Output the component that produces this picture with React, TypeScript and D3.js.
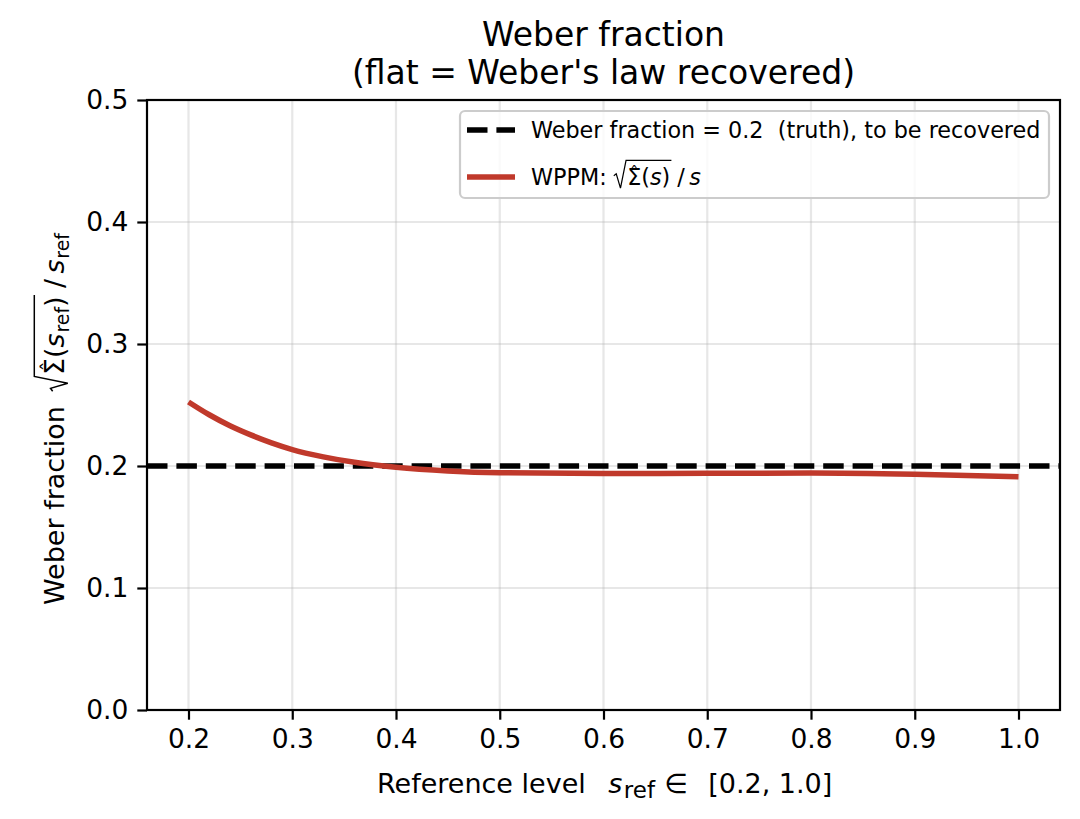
import React, { useEffect, useRef } from "react";
import * as d3 from "d3";

// reference levels and the fitted WPPM Weber fraction at each one
const sRef = [0.2, 0.22, 0.24, 0.26, 0.28, 0.3, 0.33, 0.36, 0.4, 0.45, 0.5, 0.6, 0.7, 0.8, 0.9, 1.0];
const wppm = [0.2525, 0.242, 0.233, 0.2255, 0.219, 0.2135, 0.2075, 0.203, 0.199, 0.196, 0.1945, 0.1938, 0.194, 0.1942, 0.1932, 0.1912];
const truth = 0.2;
const xTicks = [0.2, 0.3, 0.4, 0.5, 0.6, 0.7, 0.8, 0.9, 1.0];
const yTicks = [0.0, 0.1, 0.2, 0.3, 0.4, 0.5];
const titleLines = ["Weber fraction", "(flat = Weber's law recovered)"];

const W = 1080;
const H = 819;
const margin = { top: 100, right: 20, bottom: 109, left: 147 };
const FONT = "DejaVu Sans, sans-serif";
const RED = "#c0392b";
const NB = "\u00a0";

type Seg = { t?: string; it?: boolean; sub?: number; hat?: boolean; gap?: number; rad?: "open" | "close" };

// lays out a row of text pieces (with a drawn radical) and returns its width
function mathRow(g: any, segs: Seg[], fs: number): number {
  let x = 0;
  let radStart = 0;
  segs.forEach(s => {
    if (s.gap) { x += s.gap * fs; return; }
    if (s.rad === "open") { radStart = x; x += 0.6 * fs; return; }
    if (s.rad === "close") {
      const top = -1.1 * fs;
      x += 0.05 * fs;
      g.append("path")
        .attr("d", `M${radStart},${-0.42 * fs} L${radStart + 0.11 * fs},${-0.5 * fs} L${radStart + 0.3 * fs},${0.14 * fs} L${radStart + 0.55 * fs},${top} L${x},${top}`)
        .attr("fill", "none").attr("stroke", "#000").attr("stroke-width", 0.055 * fs)
        .attr("stroke-linejoin", "miter");
      x += 0.06 * fs;
      return;
    }
    const size = s.sub ? fs * s.sub : fs;
    const t = g.append("text")
      .attr("x", x).attr("y", s.sub ? fs * 0.2 : 0)
      .attr("font-size", size)
      .attr("font-style", s.it ? "italic" : "normal")
      .text(s.t);
    const w = t.node().getComputedTextLength();
    if (s.hat) {
      g.append("text").attr("x", x + w / 2).attr("y", -0.33 * fs)
        .attr("text-anchor", "middle").attr("font-size", fs * 0.75).text("\u02c6");
    }
    x += w;
  });
  return x;
}

const App = () => {
  const ref = useRef<SVGSVGElement>(null);

  useEffect(() => {
    document.body.style.margin = "0";
    const svg = d3.select(ref.current);
    svg.selectAll("*").remove();
    svg.attr("font-family", FONT);

    const x = d3.scaleLinear().domain([0.16, 1.04]).range([margin.left, W - margin.right]);
    const y = d3.scaleLinear().domain([0, 0.5]).range([H - margin.bottom, margin.top]);
    const [x0, x1] = x.range();
    const [y0, y1] = y.range();

    // grid
    const grid = svg.append("g").attr("stroke", "#b0b0b0").attr("stroke-opacity", 0.3).attr("stroke-width", 2.2);
    grid.selectAll("line.gx").data(xTicks).join("line")
      .attr("class", "gx")
      .attr("x1", d => x(d)).attr("x2", d => x(d)).attr("y1", y0).attr("y2", y1);
    grid.selectAll("line.gy").data(yTicks).join("line")
      .attr("class", "gy")
      .attr("x1", x0).attr("x2", x1).attr("y1", d => y(d)).attr("y2", d => y(d));

    // truth line
    svg.append("line")
      .attr("x1", x0).attr("x2", x1).attr("y1", y(truth)).attr("y2", y(truth))
      .attr("stroke", "#000").attr("stroke-width", 5.5).attr("stroke-dasharray", "20.5,8.9");

    // fitted curve
    const line = d3.line<number>().x((d, i) => x(sRef[i])).y(d => y(d)).curve(d3.curveMonotoneX);
    svg.append("path").datum(wppm).attr("d", line)
      .attr("fill", "none").attr("stroke", RED).attr("stroke-width", 5.5);

    // axes
    const xAxis = svg.append("g").attr("transform", `translate(0,${y0})`)
      .call(d3.axisBottom(x).tickValues(xTicks).tickFormat(d3.format(".1f")).tickSizeOuter(0).tickSize(9.7).tickPadding(9));
    const yAxis = svg.append("g").attr("transform", `translate(${x0},0)`)
      .call(d3.axisLeft(y).tickValues(yTicks).tickFormat(d3.format(".1f")).tickSizeOuter(0).tickSize(9.7).tickPadding(9));
    [xAxis, yAxis].forEach(a => {
      a.select(".domain").remove();
      a.selectAll("line").attr("stroke", "#000").attr("stroke-width", 2.2);
      a.selectAll("text").attr("font-family", FONT).attr("font-size", 26.5).attr("fill", "#000");
    });
    svg.append("rect").attr("x", x0).attr("y", y1).attr("width", x1 - x0).attr("height", y0 - y1)
      .attr("fill", "none").attr("stroke", "#000").attr("stroke-width", 2.2);

    // title
    svg.append("g").selectAll("text").data(titleLines).join("text")
      .attr("x", (x0 + x1) / 2).attr("y", (d, i) => 46 + i * 38)
      .attr("text-anchor", "middle").attr("font-size", 33).text(d => d);

    // x label
    const xl = svg.append("g").attr("transform", `translate(377,793)`);
    mathRow(xl, [
      { t: "Reference level" }, { gap: 0.83 }, { t: "s", it: true }, { gap: 0.06 }, { t: "ref", sub: 0.85 },
      { gap: 0.35 }, { t: "\u2208" }, { gap: 0.75 }, { t: "[0.2, 1.0]" }
    ], 27);

    // y label
    const yl = svg.append("g").attr("transform", `translate(64,605) rotate(-90)`);
    mathRow(yl, [
      { t: "Weber fraction" }, { gap: 0.55 }, { rad: "open" }, { t: "\u03a3", hat: true }, { t: "(" },
      { t: "s", it: true }, { gap: 0.03 }, { t: "ref", sub: 0.7 }, { t: ")" }, { rad: "close" },
      { gap: 0.2 }, { t: "/" }, { gap: 0.2 }, { t: "s", it: true }, { gap: 0.03 }, { t: "ref", sub: 0.7 }
    ], 27);

    // legend
    const lg = svg.append("g");
    lg.append("rect").attr("x", 460).attr("y", 111).attr("width", 589).attr("height", 87).attr("rx", 5)
      .attr("fill", "#fff").attr("fill-opacity", 0.8).attr("stroke", "#cccccc").attr("stroke-width", 2.2);
    lg.append("line").attr("x1", 467).attr("x2", 515).attr("y1", 130).attr("y2", 130)
      .attr("stroke", "#000").attr("stroke-width", 5.5).attr("stroke-dasharray", "20.5,8.9");
    lg.append("line").attr("x1", 467).attr("x2", 515).attr("y1", 177).attr("y2", 177)
      .attr("stroke", RED).attr("stroke-width", 5.5);
    const l1 = lg.append("g").attr("transform", "translate(531,138)");
    mathRow(l1, [{ t: "Weber fraction = 0.2" + NB + NB + "(truth), to be recovered" }], 22.3);
    const l2 = lg.append("g").attr("transform", "translate(531,185)");
    mathRow(l2, [
      { t: "WPPM:" + NB }, { rad: "open" }, { t: "\u03a3", hat: true }, { t: "(" }, { t: "s", it: true }, { t: ")" },
      { rad: "close" }, { gap: 0.2 }, { t: "/" }, { gap: 0.2 }, { t: "s", it: true }
    ], 22.3);
  }, []);

  return <svg ref={ref} width={W} height={H} style={{ display: "block", background: "#fff" }} />;
};

export default App;
